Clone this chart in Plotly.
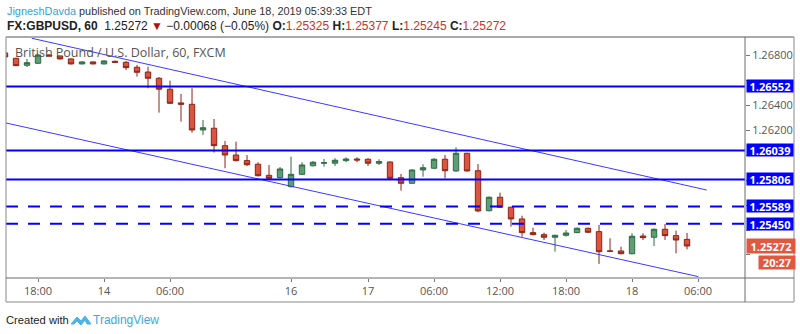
import plotly.graph_objects as go

# ---------------- data ----------------
opens = [1.26821, 1.26778, 1.26722, 1.26738, 1.26805, 1.26797, 1.26773, 1.26733, 1.26749, 1.26733,
         1.26754, 1.26746, 1.26706, 1.26668, 1.26618, 1.26530, 1.26420, 1.26409, 1.26203, 1.26217,
         1.26077, 1.26002, 1.25957, 1.25928, 1.25839, 1.25820, 1.25748, 1.25847, 1.25916, 1.25936,
         1.25936, 1.25957, 1.25970, 1.25968, 1.25936, 1.25946, 1.25820, 1.25775, 1.25882, 1.25896,
         1.25968, 1.25874, 1.26016, 1.25876, 1.25555, 1.25663, 1.25583, 1.25489, 1.25379, 1.25363,
         1.25342, 1.25358, 1.25379, 1.25414, 1.25387, 1.25232, 1.25232, 1.25210, 1.25352, 1.25342,
         1.25406, 1.25355, 1.25325]
highs = [1.26829, 1.26782, 1.26773, 1.26813, 1.26810, 1.26800, 1.26777, 1.26753, 1.26752, 1.26762,
         1.26760, 1.26757, 1.26725, 1.26711, 1.26628, 1.26599, 1.26492, 1.26538, 1.26283, 1.26291,
         1.26115, 1.26109, 1.26002, 1.25944, 1.25922, 1.25906, 1.25989, 1.25944, 1.25954, 1.25970,
         1.25976, 1.25984, 1.25984, 1.25976, 1.25968, 1.25950, 1.25850, 1.25888, 1.25928, 1.25976,
         1.26002, 1.26064, 1.26020, 1.25930, 1.25670, 1.25700, 1.25588, 1.25515, 1.25419, 1.25379,
         1.25362, 1.25400, 1.25420, 1.25420, 1.25441, 1.25334, 1.25266, 1.25374, 1.25374, 1.25412,
         1.25449, 1.25395, 1.25377]
lows = [1.26781, 1.26715, 1.26708, 1.26733, 1.26793, 1.26768, 1.26728, 1.26729, 1.26729, 1.26728,
        1.26740, 1.26684, 1.26631, 1.26538, 1.26342, 1.26412, 1.26270, 1.26181, 1.26163, 1.26021,
        1.25896, 1.25950, 1.25914, 1.25830, 1.25810, 1.25814, 1.25742, 1.25842, 1.25910, 1.25908,
        1.25914, 1.25944, 1.25944, 1.25914, 1.25922, 1.25802, 1.25716, 1.25770, 1.25828, 1.25890,
        1.25815, 1.25868, 1.25870, 1.25543, 1.25550, 1.25578, 1.25427, 1.25347, 1.25358, 1.25320,
        1.25226, 1.25347, 1.25375, 1.25378, 1.25128, 1.25226, 1.25205, 1.25205, 1.25320, 1.25272,
        1.25320, 1.25213, 1.25245]
closes = [1.26789, 1.26719, 1.26743, 1.26805, 1.26797, 1.26773, 1.26733, 1.26749, 1.26733, 1.26757,
          1.26746, 1.26703, 1.26666, 1.26618, 1.26530, 1.26417, 1.26409, 1.26203, 1.26221, 1.26077,
          1.26002, 1.25957, 1.25924, 1.25836, 1.25815, 1.25890, 1.25847, 1.25922, 1.25944, 1.25940,
          1.25960, 1.25970, 1.25962, 1.25936, 1.25949, 1.25815, 1.25775, 1.25882, 1.25900, 1.25968,
          1.25876, 1.26016, 1.25874, 1.25553, 1.25663, 1.25583, 1.25489, 1.25379, 1.25363, 1.25342,
          1.25358, 1.25376, 1.25414, 1.25382, 1.25226, 1.25230, 1.25210, 1.25350, 1.25339, 1.25406,
          1.25355, 1.25320, 1.25272]

# time axis (bar index -> label)
time_tick_idx = [3, 9, 15, 26, 33, 39, 45, 51, 57, 63]
time_tick_txt = ["18:00", "14", "06:00", "16", "17", "06:00", "12:00", "18:00", "18", "06:00"]

price_ticks = [1.268, 1.266, 1.264, 1.262, 1.260, 1.258, 1.256, 1.254, 1.252, 1.250]
price_tick_labels = ["1.26800", "", "1.26400", "1.26200", "", "", "", "", "", ""]

solid_levels = [1.26552, 1.26039, 1.25806]
dashed_levels = [1.25589, 1.25450]
last_price = 1.25272
countdown = "20:27"

# channel trend lines (bar index, price)
upper_x = [2.43, 63.79]
upper_y = [1.26939, 1.25721]
lower_x = [0.09, 63.03]
lower_y = [1.26259, 1.25026]

# ---------------- figure ----------------
W, H = 800, 334
def px(x):
    return x / W
def py(y):
    return 1 - y / H

LEFT, RIGHT, TOP, PANE_BOTTOM, BOTTOM, OUTER_RIGHT = 6, 745, 37, 278, 302, 794

idx = list(range(len(opens)))
fig = go.Figure()
fig.add_trace(go.Candlestick(
    x=idx, open=opens, high=highs, low=lows, close=closes,
    increasing=dict(fillcolor="#5e9e74", line=dict(color="#2f6a45", width=1)),
    decreasing=dict(fillcolor="#d9553f", line=dict(color="#8c2418", width=1)),
    whiskerwidth=0, hoverinfo="skip", showlegend=False,
))
BLUE = "#0000ff"
fig.add_trace(go.Scatter(x=upper_x, y=upper_y, mode="lines",
                         line=dict(color="#3b3bff", width=1), hoverinfo="skip", showlegend=False))
fig.add_trace(go.Scatter(x=lower_x, y=lower_y, mode="lines",
                         line=dict(color="#3b3bff", width=1), hoverinfo="skip", showlegend=False))

shapes = []
for lv in solid_levels:
    shapes.append(dict(type="line", xref="paper", yref="y", x0=px(LEFT), x1=px(RIGHT), y0=lv, y1=lv,
                       line=dict(color=BLUE, width=2)))
for lv in dashed_levels:
    shapes.append(dict(type="line", xref="paper", yref="y", x0=px(LEFT), x1=px(RIGHT), y0=lv, y1=lv,
                       line=dict(color=BLUE, width=2, dash="12px,10px")))
# frame
shapes += [
    dict(type="rect", xref="paper", yref="paper", x0=px(LEFT), x1=px(OUTER_RIGHT), y0=py(BOTTOM), y1=py(TOP),
         line=dict(color="#8a8a8a", width=1)),
    dict(type="line", xref="paper", yref="paper", x0=px(LEFT), x1=px(OUTER_RIGHT), y0=py(TOP), y1=py(TOP),
         line=dict(color="#aaaaaa", width=2)),
    dict(type="line", xref="paper", yref="paper", x0=px(RIGHT), x1=px(RIGHT), y0=py(BOTTOM), y1=py(TOP),
         line=dict(color="#6a6a6a", width=1)),
    dict(type="line", xref="paper", yref="paper", x0=px(LEFT), x1=px(OUTER_RIGHT), y0=py(PANE_BOTTOM), y1=py(PANE_BOTTOM),
         line=dict(color="#6a6a6a", width=1)),
]
# TradingView logo (simple cloud path)
lx, ly = 71, 320
logo_pts = [(0, 4), (6, -3), (10, 1), (14, -4), (20, 4), (16, 4), (14, 0), (10, 5), (6, 1), (3, 4)]
path = "M " + " L ".join(f"{px(lx + a):.5f},{py(ly + b):.5f}" for a, b in logo_pts) + " Z"
shapes.append(dict(type="path", xref="paper", yref="paper", path=path,
                   fillcolor="#4ab4e6", line=dict(color="#4ab4e6", width=1)))

ann = []
FONT = "Open Sans"
HFONT = "Liberation Sans"
ann.append(dict(xref="paper", yref="paper", x=px(5), y=py(11), xanchor="left", yanchor="middle", showarrow=False,
                text="<span style='color:#2ea3e0'>JigneshDavda</span> published on TradingView.com, June 18, 2019 05:39:33 EDT",
                font=dict(family=HFONT, size=10.9, color="#333333")))
red = "#c8332c"
line2 = ("<b>FX:GBPUSD, 60</b>  1.25272 <span style='color:#b01010'>▼</span> −0.00068 (−0.05%) "
         f"<b>O:</b><span style='color:{red}'>1.25325</span> <b>H:</b><span style='color:{red}'>1.25377</span> "
         f"<b>L:</b><span style='color:{red}'>1.25245</span> <b>C:</b><span style='color:{red}'>1.25272</span>")
ann.append(dict(xref="paper", yref="paper", x=px(5), y=py(26), xanchor="left", yanchor="middle", showarrow=False,
                text=line2, font=dict(family=HFONT, size=12, color="#222222")))
ann.append(dict(xref="paper", yref="paper", x=px(13), y=py(52), xanchor="left", yanchor="middle", showarrow=False,
                text="British Pound / U.S. Dollar, 60, FXCM", font=dict(family=FONT, size=12.5, color="#555555")))
ann.append(dict(xref="paper", yref="paper", x=px(4), y=py(320), xanchor="left", yanchor="middle", showarrow=False,
                text="Created with", font=dict(family=HFONT, size=11.2, color="#222222")))
ann.append(dict(xref="paper", yref="paper", x=px(91), y=py(320), xanchor="left", yanchor="middle", showarrow=False,
                text="TradingView", font=dict(family=HFONT, size=12, color="#3aa9e0")))

for lv in solid_levels + dashed_levels:
    ann.append(dict(xref="paper", yref="y", x=px(RIGHT + 1), y=lv, xanchor="left", yanchor="middle", showarrow=False,
                    text=f"<b>{lv:.5f}</b>", font=dict(family=FONT, size=11, color="white"),
                    bgcolor=BLUE, width=46, height=12, borderpad=0, align="center"))
ann.append(dict(xref="paper", yref="y", x=px(RIGHT + 1), y=last_price, xanchor="left", yanchor="middle", showarrow=False,
                text=f"<b>{last_price:.5f}</b>", font=dict(family=FONT, size=11, color="white"),
                bgcolor="#df5840", width=48, height=14, borderpad=0, align="center"))
ann.append(dict(xref="paper", yref="paper", x=px(758), y=py(262), xanchor="left", yanchor="middle", showarrow=False,
                text=f"<b>{countdown}</b>", font=dict(family=FONT, size=11, color="white"),
                bgcolor="#df5840", width=36, height=13, borderpad=0, align="center"))

fig.update_layout(
    width=W, height=H, margin=dict(l=0, r=0, t=0, b=0),
    paper_bgcolor="white", plot_bgcolor="white",
    shapes=shapes, annotations=ann, showlegend=False, hovermode=False,
    xaxis=dict(domain=[px(LEFT), px(RIGHT)], range=[0.09, 67.27], rangeslider=dict(visible=False),
               showgrid=False, zeroline=False, showline=False,
               tickmode="array", tickvals=time_tick_idx, ticktext=time_tick_txt,
               ticks="outside", ticklen=3, tickcolor="#777777",
               tickfont=dict(family=FONT, size=11, color="#555555")),
    yaxis=dict(domain=[py(PANE_BOTTOM), py(TOP)], range=[1.25015, 1.26949], side="right",
               showgrid=False, zeroline=False, showline=False,
               tickmode="array", tickvals=price_ticks, ticktext=price_tick_labels,
               ticks="outside", ticklen=4, tickcolor="#777777",
               tickfont=dict(family=FONT, size=11, color="#555555")),
)

fig.write_html("out.html")
